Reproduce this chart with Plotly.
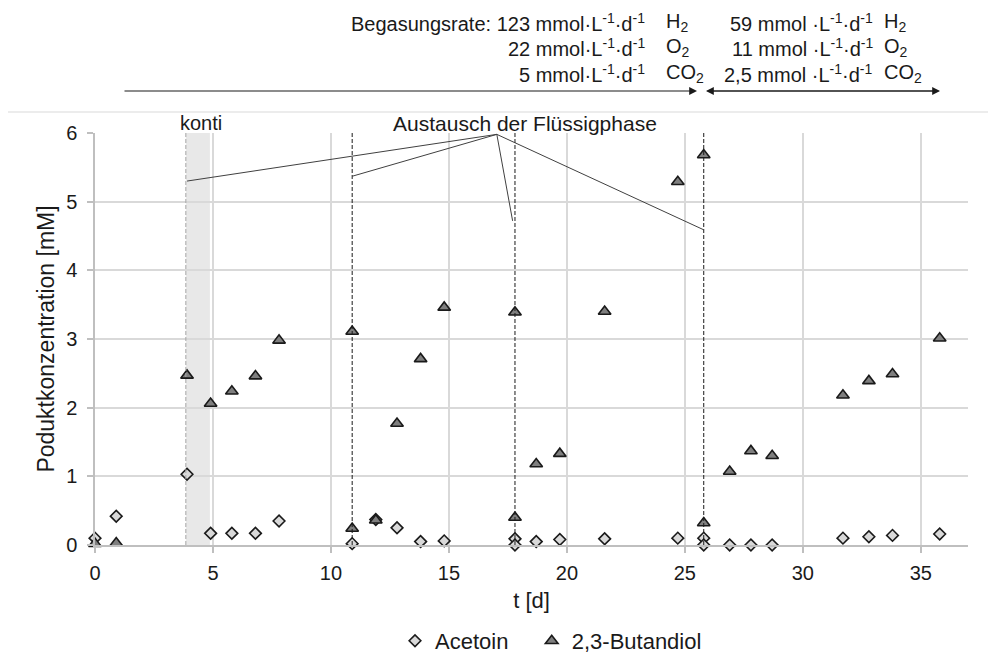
import plotly.graph_objects as go

# ---- data ----
acetoin_t = [0, 0.9, 3.9, 4.9, 5.8, 6.8, 7.8, 10.9, 11.9, 12.8, 13.8, 14.8, 17.8, 17.8,
             18.7, 19.7, 21.6, 24.7, 25.8, 25.8, 26.9, 27.8, 28.7, 31.7, 32.8, 33.8, 35.8]
acetoin_c = [0.10, 0.42, 1.03, 0.17, 0.17, 0.17, 0.35, 0.02, 0.37, 0.25, 0.05, 0.06, 0.09, 0.00,
             0.05, 0.08, 0.09, 0.10, 0.10, 0.00, 0.00, 0.00, 0.00, 0.10, 0.12, 0.14, 0.16]

butandiol_t = [0, 0.9, 3.9, 4.9, 5.8, 6.8, 7.8, 10.9, 10.9, 11.9, 12.8, 13.8, 14.8, 17.8, 17.8,
               18.7, 19.7, 21.6, 24.7, 25.8, 25.8, 26.9, 27.8, 28.7, 31.7, 32.8, 33.8, 35.8]
butandiol_c = [0.02, 0.03, 2.47, 2.06, 2.24, 2.46, 2.98, 3.11, 0.24, 0.36, 1.77, 2.71, 3.46, 3.39, 0.40,
               1.18, 1.33, 3.40, 5.29, 5.68, 0.32, 1.07, 1.37, 1.30, 2.18, 2.39, 2.49, 3.01]

exchange_days = [10.9, 17.8, 25.8]
konti_start, konti_end = 3.85, 4.87
annot_apex = (17.03, 5.98)
annot_targets = [(3.9, 5.30), (10.9, 5.37), (17.7, 4.72), (25.8, 4.59)]

x_ticks = [0, 5, 10, 15, 20, 25, 30, 35]
y_ticks = [0, 1, 2, 3, 4, 5, 6]

FONT = "Liberation Sans, Arial, sans-serif"
INK = "#1a1a1a"
W, H = 988, 655
L, R, T, B = 95, 20, 133, 110
PW, PH = W - L - R, H - T - B


def xp(px):
    return (px - L) / PW


def yp(py):
    return (T + PH - py) / PH


fig = go.Figure()

fig.add_trace(go.Scatter(
    x=acetoin_t, y=acetoin_c, mode="markers", name="Acetoin\u00a0\u00a0\u00a0",
    marker=dict(symbol="diamond", size=9, color="#d9d9d9",
                line=dict(color=INK, width=1.6)),
    cliponaxis=False))
fig.add_trace(go.Scatter(
    x=butandiol_t, y=butandiol_c, mode="markers", name="2,3-Butandiol",
    marker=dict(symbol="triangle-up", size=11, color="#7f7f7f",
                line=dict(color=INK, width=1.6)),
    cliponaxis=False))

shapes = []
# konti band
shapes.append(dict(type="rect", xref="x", yref="y", x0=konti_start, x1=konti_end, y0=0, y1=6,
                   fillcolor="#e8e8e8", line=dict(width=0), layer="below"))
shapes.append(dict(type="line", xref="x", yref="y", x0=konti_start, x1=konti_start, y0=0, y1=6,
                   line=dict(color="#a6a6a6", width=1, dash="4px,2px"), layer="above"))
for d in exchange_days:
    shapes.append(dict(type="line", xref="x", yref="y", x0=d, x1=d, y0=0, y1=6,
                       line=dict(color=INK, width=1, dash="4px,2px"), layer="above"))
for tx, ty in annot_targets:
    shapes.append(dict(type="line", xref="x", yref="y", x0=annot_apex[0], y0=annot_apex[1],
                       x1=tx, y1=ty, line=dict(color="#404040", width=1)))
# thin separator line at top
shapes.append(dict(type="line", xref="paper", yref="paper", x0=xp(8), x1=xp(988),
                   y0=yp(112), y1=yp(112), line=dict(color="#d9d9d9", width=1.2)))

ann = []
fs = 20
sup = lambda s: "<sup>" + s + "</sup>"
unit = "mmol·L" + sup("-1") + "·d" + sup("-1")
unit2 = "mmol ·L" + sup("-1") + "·d" + sup("-1")
left_lines = ["Begasungsrate: 123 " + unit, "22 " + unit, "5 " + unit]
right_lines = ["59 " + unit2, "11 " + unit2, "2,5 " + unit2]
gases = ["H<sub>2</sub>", "O<sub>2</sub>", "CO<sub>2</sub>"]
line_y = [22, 48, 73]
for i in range(3):
    ann.append(dict(xref="paper", yref="paper", x=xp(647), y=yp(line_y[i]), text=left_lines[i],
                    xanchor="right", yanchor="middle", showarrow=False,
                    font=dict(family=FONT, size=fs, color=INK)))
    ann.append(dict(xref="paper", yref="paper", x=xp(664), y=yp(line_y[i]), text=gases[i],
                    xanchor="left", yanchor="middle", showarrow=False,
                    font=dict(family=FONT, size=fs, color=INK)))
    ann.append(dict(xref="paper", yref="paper", x=xp(875), y=yp(line_y[i]), text=right_lines[i],
                    xanchor="right", yanchor="middle", showarrow=False,
                    font=dict(family=FONT, size=fs, color=INK)))
    ann.append(dict(xref="paper", yref="paper", x=xp(882), y=yp(line_y[i]), text=gases[i],
                    xanchor="left", yanchor="middle", showarrow=False,
                    font=dict(family=FONT, size=fs, color=INK)))

# arrows
arrow_y = yp(91)
ann.append(dict(xref="paper", yref="paper", x=xp(697), y=arrow_y, ax=-(697 - 123), ay=0,
                text="", showarrow=True, arrowhead=2, arrowsize=1.3, arrowwidth=1.2,
                arrowcolor=INK))
ann.append(dict(xref="paper", yref="paper", x=xp(940), y=arrow_y, ax=-(940 - 706), ay=0,
                text="", showarrow=True, arrowhead=2, arrowsize=1.3, arrowwidth=1.2,
                arrowcolor=INK))
ann.append(dict(xref="paper", yref="paper", x=xp(706), y=arrow_y, ax=(940 - 706), ay=0,
                text="", showarrow=True, arrowhead=2, arrowsize=1.3, arrowwidth=1.2,
                arrowcolor=INK))

ann.append(dict(xref="paper", yref="paper", x=xp(201), y=yp(123), text="konti",
                xanchor="center", yanchor="middle", showarrow=False,
                font=dict(family=FONT, size=fs, color=INK)))
ann.append(dict(xref="paper", yref="paper", x=xp(391), y=yp(123), text="Austausch der Flüssigphase",
                xanchor="left", yanchor="middle", showarrow=False,
                font=dict(family=FONT, size=21, color=INK)))

fig.update_layout(
    width=W, height=H,
    margin=dict(l=L, r=R, t=T, b=B, pad=0, autoexpand=False),
    paper_bgcolor="white", plot_bgcolor="white",
    font=dict(family=FONT, size=fs, color=INK),
    shapes=shapes, annotations=ann,
    showlegend=True,
    legend=dict(orientation="h", x=xp(395), xanchor="left", y=yp(641), yanchor="middle",
                font=dict(family=FONT, size=22, color=INK), itemwidth=30,
                bgcolor="rgba(0,0,0,0)"),
)
fig.update_xaxes(range=[0, 37], tickvals=x_ticks, showgrid=True, gridcolor="#d9d9d9", gridwidth=1.5,
                 zeroline=False, showline=True, linecolor="#bfbfbf", linewidth=1.5,
                 ticks="outside", ticklen=6, tickcolor="#bfbfbf", tickwidth=1.5, automargin=False,
                 ticklabelstandoff=3, tickfont=dict(family=FONT, size=20, color=INK),
                 title=dict(text="t [d]", standoff=10, font=dict(family=FONT, size=22, color=INK)))
fig.update_yaxes(range=[0, 6], tickvals=y_ticks, showgrid=True, gridcolor="#d9d9d9", gridwidth=1.5,
                 zeroline=False, showline=True, linecolor="#bfbfbf", linewidth=1.5,
                 ticks="outside", ticklen=6, tickcolor="#bfbfbf", tickwidth=1.5, automargin=False,
                 ticklabelstandoff=6, tickfont=dict(family=FONT, size=20, color=INK),
                 title=dict(text="Poduktkonzentration [mM]", standoff=5,
                            font=dict(family=FONT, size=23, color=INK)))

fig.write_html("out.html")
